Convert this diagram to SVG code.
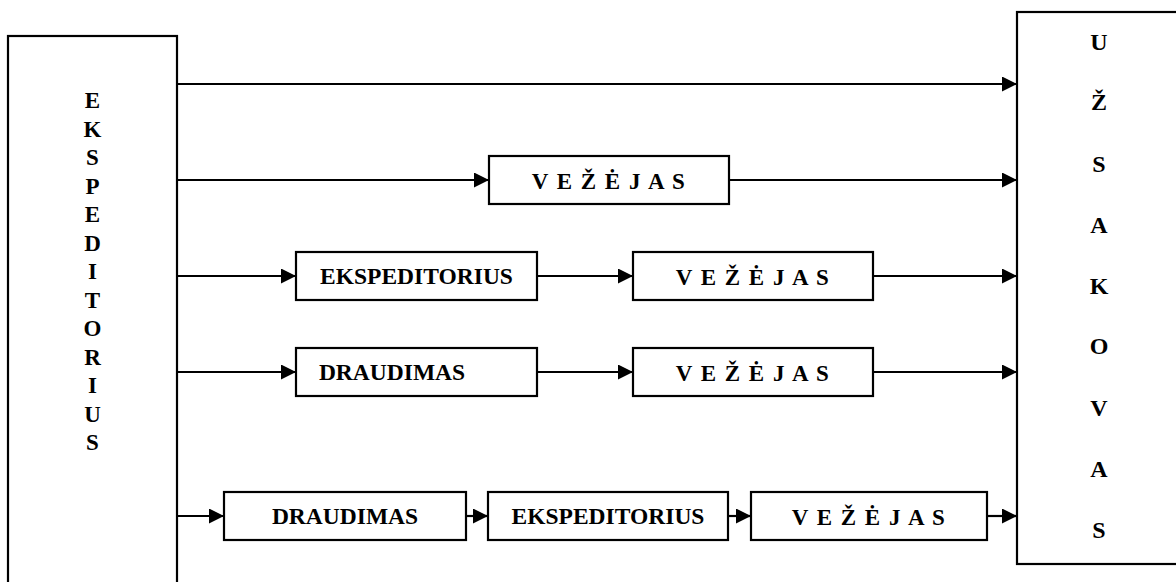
<svg xmlns="http://www.w3.org/2000/svg" width="1176" height="582" viewBox="0 0 1176 582">
<defs>
<style>
.box{fill:#fff;stroke:#000;stroke-width:2.2}
.ln{stroke:#000;stroke-width:2.2;fill:none}
.arr{marker-end:url(#ah)}
.lbl{font-size:23.5px;text-anchor:middle}
.vz{font-size:23px;text-anchor:middle;letter-spacing:1.5px}
.big{font-size:24px;text-anchor:middle}
.lft{font-size:23px;text-anchor:middle}
</style>
<marker id="ah" markerUnits="userSpaceOnUse" markerWidth="16" markerHeight="16" refX="15" refY="7.5" orient="auto">
<path d="M0,0 L15,7.5 L0,15 z" fill="#000"/>
</marker>
</defs>
<rect width="1176" height="582" fill="#fff"/>
<g font-family="'Liberation Serif', 'Times New Roman', 'DejaVu Serif', serif" font-weight="bold" fill="#000">
<g id="ekspeditorius-left">
<rect class="box" x="8" y="36" width="169" height="600"/>
<text class="lft" x="92.5" y="108">E</text>
<text class="lft" x="92.5" y="136.5">K</text>
<text class="lft" x="92.5" y="165">S</text>
<text class="lft" x="92.5" y="193.5">P</text>
<text class="lft" x="92.5" y="222">E</text>
<text class="lft" x="92.5" y="250.5">D</text>
<text class="lft" x="92.5" y="279">I</text>
<text class="lft" x="92.5" y="307.5">T</text>
<text class="lft" x="92.5" y="336">O</text>
<text class="lft" x="92.5" y="364.5">R</text>
<text class="lft" x="92.5" y="393">I</text>
<text class="lft" x="92.5" y="421.5">U</text>
<text class="lft" x="92.5" y="450">S</text>
</g>

<g id="uzsakovas">
<rect class="box" x="1017" y="12" width="200" height="552"/>
<text class="big" x="1099" y="50">U</text>
<text class="big" x="1099" y="110">Ž</text>
<text class="big" x="1099" y="172">S</text>
<text class="big" x="1099" y="233">A</text>
<text class="big" x="1099" y="294">K</text>
<text class="big" x="1099" y="354">O</text>
<text class="big" x="1099" y="416">V</text>
<text class="big" x="1099" y="477">A</text>
<text class="big" x="1099" y="538">S</text>
</g>

<g id="vezejas-r2">
<rect class="box" x="489" y="156" width="240" height="48"/>
<text class="vz" x="609" y="189">V E Ž Ė J A S</text>
</g>

<g id="ekspeditorius-r3">
<rect class="box" x="296" y="252" width="241" height="48"/>
<text class="lbl" x="416.5" y="284">EKSPEDITORIUS</text>
</g>
<g id="vezejas-r3">
<rect class="box" x="633" y="252" width="240" height="48"/>
<text class="vz" x="753" y="285">V E Ž Ė J A S</text>
</g>

<g id="draudimas-r4">
<rect class="box" x="296" y="348" width="241" height="48"/>
<text class="lbl" x="392" y="380">DRAUDIMAS</text>
</g>
<g id="vezejas-r4">
<rect class="box" x="633" y="348" width="240" height="48"/>
<text class="vz" x="753" y="381">V E Ž Ė J A S</text>
</g>

<g id="draudimas-r5">
<rect class="box" x="224" y="492" width="242" height="48"/>
<text class="lbl" x="345" y="524">DRAUDIMAS</text>
</g>
<g id="ekspeditorius-r5">
<rect class="box" x="488" y="492" width="240" height="48"/>
<text class="lbl" x="608" y="524">EKSPEDITORIUS</text>
</g>
<g id="vezejas-r5">
<rect class="box" x="751" y="492" width="236" height="48"/>
<text class="vz" x="869" y="525">V E Ž Ė J A S</text>
</g>
</g>

<g id="connectors">
<line class="ln arr" x1="177" y1="84" x2="1017" y2="84"/>
<line class="ln arr" x1="177" y1="180" x2="489" y2="180"/>
<line class="ln arr" x1="729" y1="180" x2="1017" y2="180"/>
<line class="ln arr" x1="177" y1="276" x2="296" y2="276"/>
<line class="ln arr" x1="537" y1="276" x2="633" y2="276"/>
<line class="ln arr" x1="873" y1="276" x2="1017" y2="276"/>
<line class="ln arr" x1="177" y1="372" x2="296" y2="372"/>
<line class="ln arr" x1="537" y1="372" x2="633" y2="372"/>
<line class="ln arr" x1="873" y1="372" x2="1017" y2="372"/>
<line class="ln arr" x1="177" y1="516" x2="224" y2="516"/>
<line class="ln arr" x1="466" y1="516" x2="488" y2="516"/>
<line class="ln arr" x1="728" y1="516" x2="751" y2="516"/>
<line class="ln arr" x1="987" y1="516" x2="1017" y2="516"/>
</g>
</svg>
